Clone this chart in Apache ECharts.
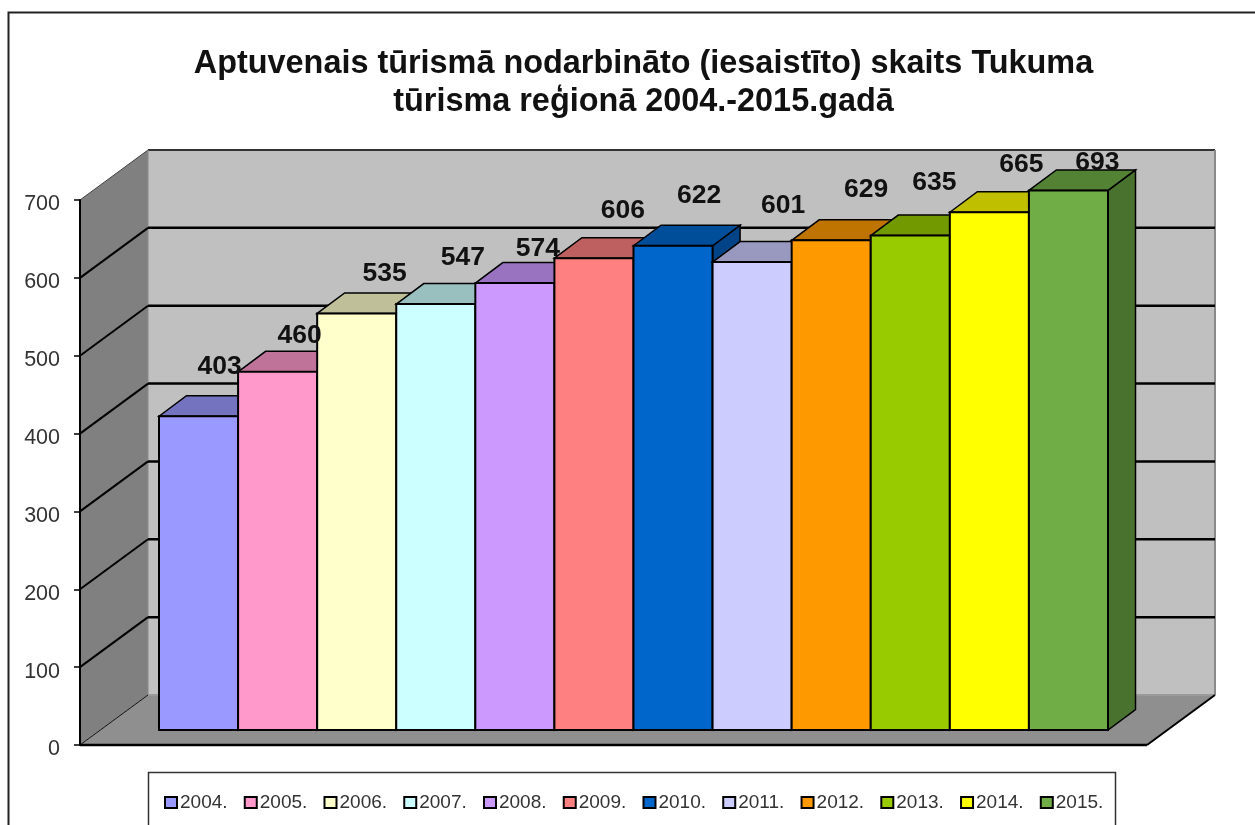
<!DOCTYPE html>
<html><head><meta charset="utf-8">
<style>html,body{margin:0;padding:0;background:#fff}#c{width:1255px;height:825px;filter:blur(0.45px)}</style>
<script src="https://cdn.jsdelivr.net/npm/echarts@6/dist/echarts.min.js"></script>
</head><body><div id="c"></div>
<script>
const titleLines = ['Aptuvenais tūrismā nodarbināto (iesaistīto) skaits Tukuma', 'tūrisma reģionā 2004.-2015.gadā'];
const years = ['2004.','2005.','2006.','2007.','2008.','2009.','2010.','2011.','2012.','2013.','2014.','2015.'];
const values = [403,460,535,547,574,606,622,601,629,635,665,693];
const colors = ['#9999FF','#FF99CC','#FFFFCC','#CCFFFF','#CC99FF','#FF8080','#0066CC','#CCCCFF','#FF9900','#99CC00','#FFFF00','#70AD47'];
const gridValues = [100,200,300,400,500,600,700];
// hand-placed data labels in the original: shift from the top of each bar (styling, not data)
const labelShift = [[21,-50],[22,-36],[28,-40],[27,-46],[23,-34],[29,-47],[26,-50],[31,-56],[35,-51],[24,-53],[32,-48],[29,-28]];

const WALL_DX = 68, WALL_DY = -50, BAR_DX = 27.5, BAR_DY = -20.5;
const FONT = '"Liberation Sans", Arial, sans-serif';

function shade(hex, f) {
  const n = parseInt(hex.slice(1), 16);
  const c = [n >> 16, (n >> 8) & 255, n & 255].map(v => Math.round(v * f));
  return `rgb(${c[0]},${c[1]},${c[2]})`;
}
function poly(points, fill, stroke, lw) {
  return {type:'polygon', shape:{points}, style:{fill, stroke:stroke||'none', lineWidth:lw||0}};
}
function seg(a, b, stroke, lw) {
  return {type:'line', shape:{x1:a[0],y1:a[1],x2:b[0],y2:b[1]}, style:{stroke, lineWidth:lw}};
}
function renderFrame(params, api) {
  const p0 = api.coord([0,0]), p1 = api.coord([1,0]), t0 = api.coord([0,700]);
  const b = p => [p[0]+WALL_DX, p[1]+WALL_DY];
  const kids = [
    poly([t0, b(t0), b(p0), p0], '#808080'),
    poly([b(t0), [b(p1)[0], b(t0)[1]], b(p1), b(p0)], '#C0C0C0', null),
    poly([p0, b(p0), b(p1), p1], '#8F8F8F'),
    seg(b(t0), [b(p1)[0], b(t0)[1]], '#333333', 2),
    seg(t0, b(t0), '#444444', 1),
    seg([b(p1)[0], b(t0)[1]], b(p1), '#8A8A8A', 2),
    seg(b(p0), b(p1), '#9A9A9A', 2),
    seg(b(t0), b(p0), '#8A8A8A', 1),
    seg(p0, b(p0), '#111111', 1),
    seg(p1, b(p1), '#000000', 2),
    seg(p0, p1, '#000000', 2.5)
  ];
  gridValues.forEach(v => {
    const a = api.coord([0,v]);
    const c = [b(p1)[0], b(a)[1]];
    if (v < 700) kids.push(seg(b(a), c, '#000000', 2.5));
    if (v < 700) kids.push(seg(a, b(a), '#000000', 2));
  });
  return {type:'group', children:kids};
}
function renderBar(params, api) {
  const i = api.value(0), v = api.value(1);
  const c = api.coord([i, v]), base = api.coord([i, 0]);
  const w = api.size([1,0])[0];
  const col = api.visual('color');
  const L = c[0]-w/2, R = c[0]+w/2, T = c[1], B = base[1];
  const line = '#000000';
  return {type:'group', children:[
    poly([[R,T],[R+BAR_DX,T+BAR_DY],[R+BAR_DX,B+BAR_DY],[R,B]], shade(col,0.66), line, 1.5),
    poly([[L,T],[L+BAR_DX,T+BAR_DY],[R+BAR_DX,T+BAR_DY],[R,T]], shade(col,0.75), line, 1.5),
    poly([[L,T],[R,T],[R,B],[L,B]], col, line, 2)
  ]};
}

const series = [{
  type:'custom', name:'frame', xAxisIndex:0, yAxisIndex:0, silent:true,
  data:[[0,0]], renderItem:renderFrame, encode:{x:0,y:1}, clip:false, z:1
}];
years.forEach((y,i) => series.push({
  type:'custom', name:y, xAxisIndex:1, yAxisIndex:1, silent:true, clip:false, z:2,
  itemStyle:{color:colors[i]}, data:[[i,values[i]]], encode:{x:0,y:1}, renderItem:renderBar
}));
series.push({
  type:'scatter', name:'labels', xAxisIndex:1, yAxisIndex:1, silent:true, z:5, symbolSize:1, clip:false,
  itemStyle:{opacity:0},
  data: values.map((v,i) => ({value:[i,v], label:{offset:labelShift[i]}})),
  label:{show:true, position:'inside', formatter:p => p.value[1],
    fontFamily:FONT, fontWeight:'bold', fontSize:26.5, color:'#111111', opacity:1}
});

const chart = echarts.init(document.getElementById('c'), null, {renderer:'canvas'});
chart.setOption({
  animation:false, backgroundColor:'#ffffff',
  title:{text:titleLines.join('\n'), left:638.5, top:40, textAlign:'center',
    textStyle:{fontFamily:FONT, fontWeight:'bold', fontSize:32.4, color:'#111111', lineHeight:38}},
  graphic:[
    {type:'polyline', z:0, shape:{points:[[8.5,840],[8.5,12.5],[1260,12.5]]}, style:{fill:'none', stroke:'#222', lineWidth:2}},
    {type:'rect', z:0, shape:{x:148.5,y:772.5,width:967,height:80}, style:{fill:'#fff', stroke:'#333', lineWidth:1.5}}
  ],
  grid:[
    {left:80, top:200, width:1067, height:545},
    {left:159, top:185, width:949, height:545}
  ],
  xAxis:[
    {type:'value', gridIndex:0, min:0, max:1, show:false},
    {type:'category', gridIndex:1, data:years, show:false}
  ],
  yAxis:[
    {type:'value', gridIndex:0, min:0, max:700, interval:100, position:'left',
      axisLine:{show:true, onZero:false, lineStyle:{color:'#000', width:2}},
      axisTick:{show:true, length:6, lineStyle:{color:'#000', width:1.5}},
      axisLabel:{fontFamily:FONT, fontSize:21.5, color:'#333333', margin:20, verticalAlign:'top', lineHeight:9},
      splitLine:{show:false}, z:6},
    {type:'value', gridIndex:1, min:0, max:700, show:false, splitLine:{show:false}}
  ],
  legend:{
    data:years, left:164, top:793, orient:'horizontal', padding:0, itemGap:16.2,
    itemWidth:12, itemHeight:11, icon:'rect', selectedMode:false, z:10,
    itemStyle:{borderColor:'#000', borderWidth:2},
    textStyle:{fontFamily:FONT, fontSize:19, color:'#333333', padding:[0,0,0,-2]}
  },
  series
});
</script></body></html>
